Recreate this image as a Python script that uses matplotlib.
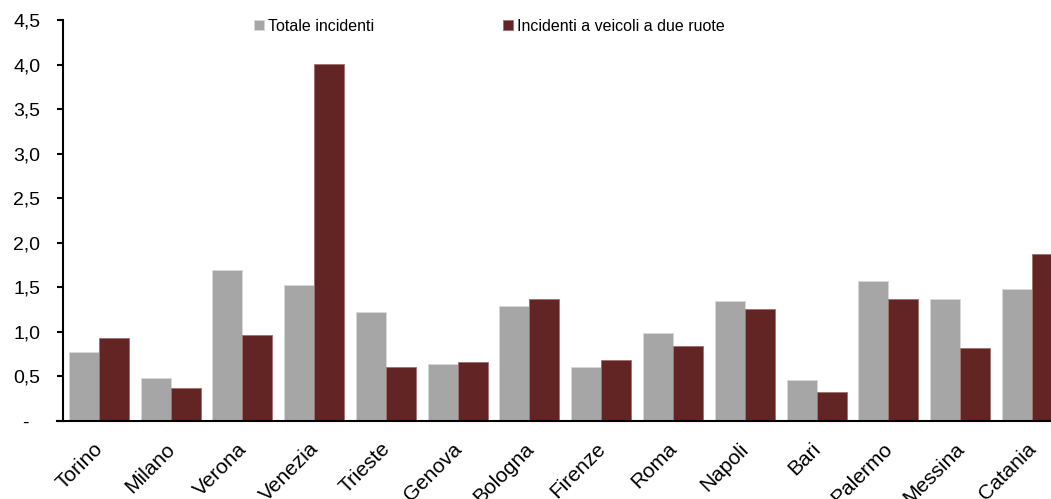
import matplotlib
matplotlib.use('Agg')
import matplotlib.pyplot as plt
import matplotlib.transforms as mtransforms
import numpy as np

plt.rcParams['font.family'] = ['Liberation Sans', 'DejaVu Sans']
plt.rcParams['font.size'] = 14

citta = ['Torino', 'Milano', 'Verona', 'Venezia', 'Trieste', 'Genova', 'Bologna',
         'Firenze', 'Roma', 'Napoli', 'Bari', 'Palermo', 'Messina', 'Catania']
totale = [0.77, 0.48, 1.69, 1.53, 1.22, 0.64, 1.29, 0.61, 0.99, 1.35, 0.46, 1.57, 1.37, 1.48]
due_ruote = [0.93, 0.37, 0.97, 4.01, 0.61, 0.66, 1.37, 0.68, 0.84, 1.26, 0.32, 1.37, 0.82, 1.87]
y_ticks = [0, 0.5, 1.0, 1.5, 2.0, 2.5, 3.0, 3.5, 4.0, 4.5]
y_labels = ['-  ', '0,5', '1,0', '1,5', '2,0', '2,5', '3,0', '3,5', '4,0', '4,5']

grigio = '#a6a6a6'
bordeaux = '#632523'

fig = plt.figure(figsize=(10.51, 4.99), dpi=100)
ax = fig.add_axes([0.0599, 0.1563, 0.956, 0.8036])

x = np.arange(len(citta))
w = 0.418
ax.bar(x - w / 2, totale, w, color=grigio, edgecolor='#d9d9d9', linewidth=0.6,
       label='Totale incidenti')
ax.bar(x + w / 2, due_ruote, w, color=bordeaux, edgecolor='#a07070', linewidth=0.6,
       label='Incidenti a veicoli a due ruote')

ax.set_xlim(-0.5, len(citta) - 0.5)
ax.set_ylim(0, 4.5)
ax.set_yticks(y_ticks)
ax.set_yticklabels(y_labels)

for s in ['top', 'right']:
    ax.spines[s].set_visible(False)
ax.spines['left'].set_linewidth(1.5)
ax.spines['bottom'].set_linewidth(1.5)
ax.spines['bottom'].set_bounds(-0.5 - 6 / 71.77, len(citta) - 0.5)
ax.spines['bottom'].set_clip_on(False)

ax.tick_params(axis='y', direction='out', length=4.3, width=1.5, pad=12, labelsize=14)
ax.tick_params(axis='x', length=0, pad=18, labelsize=15)

ax.set_xticks(x)
ax.set_xticklabels(citta)
sposta = mtransforms.ScaledTranslation(1 / 100, 0, fig.dpi_scale_trans)
for lab in ax.get_xticklabels():
    lab.set_rotation(45)
    lab.set_ha('right')
    lab.set_va('center')
    lab.set_rotation_mode('anchor')
    lab.set_transform(lab.get_transform() + sposta)

ax.legend(loc='upper left', bbox_to_anchor=(254 / 1051, 1 - 19 / 499),
          bbox_transform=fig.transFigure, ncol=2, frameon=False, fontsize=11.5,
          handlelength=0.6, handleheight=0.6, handletextpad=0.25, columnspacing=8.1,
          borderaxespad=0, borderpad=0)

fig.savefig('out.png', dpi=100)
